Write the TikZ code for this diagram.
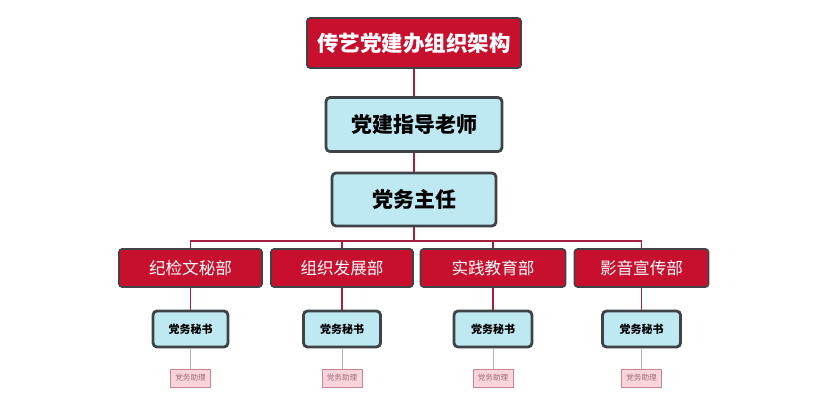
\documentclass[tikz,border=0pt]{standalone}
\usepackage{fontspec}
\usepackage{xcolor}
\newfontfamily\cjk{Noto Sans CJK SC}
\definecolor{partyred}{HTML}{C8102E}
\definecolor{linkred}{HTML}{A3213E}
\definecolor{edgegray}{HTML}{3E4347}
\definecolor{skyfill}{HTML}{BEE9F2}
\definecolor{pinkfill}{HTML}{F9D4DB}
\definecolor{pinkedge}{HTML}{C98592}
\tikzset{
  redbox/.style={draw=edgegray, fill=partyred, rounded corners=3pt, line width=1.6pt,
    text=white, inner sep=0pt, font=\cjk},
  bluebox/.style={draw=edgegray, fill=skyfill, rounded corners=4pt, line width=2.8pt,
    inner sep=0pt, font=\cjk\bfseries},
  helpbox/.style={draw=pinkedge, fill=pinkfill, line width=0.7pt, inner sep=0pt,
    minimum width=40pt, minimum height=18pt, text=pinkedge!80!black, font=\cjk\fontsize{7.6}{8}\selectfont},
  link/.style={draw=linkred, line width=1.8pt},
  thinlink/.style={draw=black!30, line width=0.8pt}
}

\begin{document}
\begin{tikzpicture}[x=1pt,y=-1pt]
  \useasboundingbox (0,0) rectangle (828,405);
  \node[redbox, minimum width=214pt, minimum height=50pt,
    font=\cjk\bfseries\fontsize{21.5}{22}\selectfont] (org) at (414,43) {传艺党建办组织架构};
  \node[bluebox, minimum width=176pt, minimum height=54pt,
    font=\cjk\bfseries\fontsize{21}{22}\selectfont] (mentor) at (414,124.5) {党建指导老师};
  \node[bluebox, minimum width=164pt, minimum height=53pt,
    font=\cjk\bfseries\fontsize{21}{22}\selectfont] (head) at (414,199.5) {党务主任};
  \coordinate (fork) at (414,241);
  % departments
  \node[redbox, minimum width=143pt, minimum height=38pt,
    font=\cjk\fontsize{16.6}{18}\selectfont] (jj) at (190.5,268) {纪检文秘部};
  \node[redbox, minimum width=142pt, minimum height=38pt,
    font=\cjk\fontsize{16.6}{18}\selectfont] (zz) at (342,268) {组织发展部};
  \node[redbox, minimum width=145pt, minimum height=38pt,
    font=\cjk\fontsize{16.6}{18}\selectfont] (sj) at (493,268) {实践教育部};
  \node[redbox, minimum width=134pt, minimum height=38pt,
    font=\cjk\fontsize{16.6}{18}\selectfont] (yy) at (641.5,268) {影音宣传部};
  % secretaries
  \node[bluebox, minimum width=75pt, minimum height=36pt,
    font=\cjk\bfseries\fontsize{11}{12}\selectfont] (ms1) at (190.5,329) {党务秘书};
  \node[bluebox, minimum width=77pt, minimum height=36pt,
    font=\cjk\bfseries\fontsize{11}{12}\selectfont] (ms2) at (342,329) {党务秘书};
  \node[bluebox, minimum width=78pt, minimum height=36pt,
    font=\cjk\bfseries\fontsize{11}{12}\selectfont] (ms3) at (493,329) {党务秘书};
  \node[bluebox, minimum width=78pt, minimum height=36pt,
    font=\cjk\bfseries\fontsize{11}{12}\selectfont] (ms4) at (641.5,329) {党务秘书};
  % assistants
  \node[helpbox] (zl1) at (190.5,378) {党务助理};
  \node[helpbox] (zl2) at (342,378) {党务助理};
  \node[helpbox] (zl3) at (493,378) {党务助理};
  \node[helpbox] (zl4) at (641.5,378) {党务助理};
  % connectors
  \draw[link] (org) -- (mentor);
  \draw[link] (mentor) -- (head);
  \draw[link] (head) -- (fork);
  \draw[link] (fork) -| (jj.north);
  \draw[link] (fork) -| (zz.north);
  \draw[link] (fork) -| (sj.north);
  \draw[link] (fork) -| (yy.north);
  \draw[link] (jj) -- (ms1);
  \draw[link] (zz) -- (ms2);
  \draw[link] (sj) -- (ms3);
  \draw[link] (yy) -- (ms4);
  \draw[thinlink] (ms1) -- (zl1);
  \draw[thinlink] (ms2) -- (zl2);
  \draw[thinlink] (ms3) -- (zl3);
  \draw[thinlink] (ms4) -- (zl4);
\end{tikzpicture}
\end{document}
